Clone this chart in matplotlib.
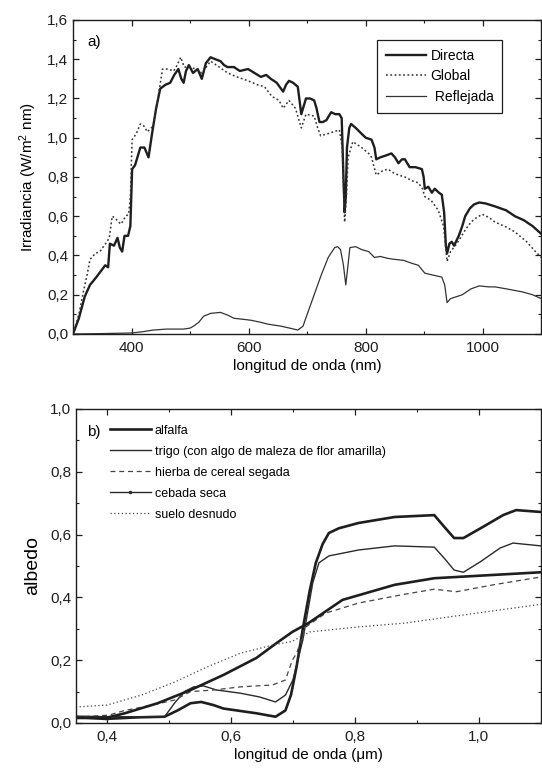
import matplotlib
matplotlib.use("Agg")
import matplotlib.pyplot as plt
from matplotlib.ticker import MultipleLocator, FuncFormatter
from matplotlib.lines import Line2D

plt.rcParams['font.family'] = ['Liberation Sans', 'DejaVu Sans']
plt.rcParams['mathtext.fontset'] = 'custom'
plt.rcParams['mathtext.rm'] = 'Liberation Sans'
plt.rcParams['mathtext.it'] = 'Liberation Sans:italic'

# ---------------- panel a) data ----------------
directa_nm = [300, 310, 320, 329, 340, 355, 360, 363, 370, 376, 380, 384, 388, 394, 398, 401, 406, 415, 422, 429,
              435, 442, 449, 458, 466, 473, 480, 485, 489, 493, 498, 505, 513, 520, 527, 535, 543, 552, 558, 564,
              575, 585, 599, 610, 621, 630, 638, 648, 659, 664, 669, 676, 684, 690, 694, 698, 705, 712, 716, 721,
              727, 733, 741, 748, 755, 759, 762, 764, 766, 768, 772, 775, 783, 793, 800, 810, 815, 818, 825, 835,
              844, 850, 856, 862, 867, 875, 885, 896, 899, 901, 907, 913, 918, 925, 930, 934, 937, 939, 943, 947,
              951, 959, 965, 970, 978, 985, 994, 1005, 1021, 1040, 1055, 1070, 1085, 1100]
directa_val = [0.0, 0.08, 0.19, 0.25, 0.29, 0.35, 0.34, 0.46, 0.45, 0.49, 0.44, 0.42, 0.50, 0.50, 0.55, 0.84, 0.86, 0.95, 0.95, 0.90,
               1.02, 1.15, 1.25, 1.27, 1.28, 1.32, 1.35, 1.30, 1.28, 1.34, 1.37, 1.33, 1.35, 1.30, 1.38, 1.41, 1.40, 1.39, 1.37, 1.36,
               1.36, 1.34, 1.35, 1.33, 1.31, 1.32, 1.30, 1.28, 1.235, 1.27, 1.29, 1.28, 1.26, 1.12, 1.16, 1.20, 1.20, 1.19, 1.15, 1.08,
               1.08, 1.09, 1.13, 1.12, 1.12, 1.10, 0.80, 0.62, 0.70, 0.95, 1.05, 1.07, 1.05, 1.02, 1.00, 0.99, 0.95, 0.89, 0.90, 0.91,
               0.92, 0.90, 0.87, 0.89, 0.89, 0.85, 0.85, 0.84, 0.80, 0.74, 0.75, 0.72, 0.74, 0.72, 0.71, 0.62, 0.45, 0.41, 0.46, 0.47,
               0.45, 0.50, 0.55, 0.60, 0.64, 0.66, 0.67, 0.665, 0.65, 0.63, 0.60, 0.58, 0.55, 0.51]

global_nm = [300, 310, 318, 324, 329, 338, 346, 358, 362, 367, 372, 378, 382, 386, 390, 395, 398, 401, 408, 415,
             421, 427, 437, 445, 453, 462, 472, 478, 484, 490, 498, 510, 520, 535, 550, 564, 580, 599, 615, 627,
             640, 652, 659, 669, 680, 690, 698, 712, 718, 723, 735, 745, 755, 760, 764, 767, 770, 778, 793, 805,
             810, 818, 828, 838, 848, 856, 867, 880, 890, 897, 901, 912, 924, 933, 939, 945, 953, 962, 970, 980,
             988, 999, 1010, 1021, 1040, 1055, 1075, 1090, 1100]
global_val = [0.0, 0.10, 0.22, 0.30, 0.38, 0.41, 0.42, 0.47, 0.49, 0.60, 0.59, 0.57, 0.56, 0.58, 0.60, 0.61, 0.70, 0.99, 1.02, 1.07,
              1.06, 1.03, 1.06, 1.20, 1.35, 1.35, 1.34, 1.37, 1.41, 1.36, 1.36, 1.35, 1.33, 1.39, 1.36, 1.33, 1.31, 1.29, 1.27, 1.26,
              1.21, 1.19, 1.15, 1.19, 1.15, 1.05, 1.12, 1.11, 1.05, 1.01, 1.02, 1.03, 1.04, 0.95, 0.57, 0.70, 0.90, 0.98, 0.95, 0.92,
              0.90, 0.81, 0.83, 0.84, 0.82, 0.81, 0.80, 0.78, 0.77, 0.74, 0.70, 0.68, 0.63, 0.55, 0.37, 0.42, 0.45, 0.49, 0.53, 0.57,
              0.59, 0.61, 0.595, 0.57, 0.545, 0.52, 0.47, 0.42, 0.39]

refl_nm = [300, 350, 400, 420, 437, 460, 489, 500, 506, 515, 523, 535, 552, 565, 575, 590, 604, 620, 633, 655,
           670, 684, 693, 700, 712, 724, 736, 747, 752, 757, 762, 766, 769, 773, 783, 793, 805, 815, 825, 838,
           850, 865, 879, 890, 901, 915, 930, 935, 939, 945, 955, 965, 980, 994, 1010, 1021, 1040, 1067, 1085, 1100]
refl_val = [0.0, 0.002, 0.005, 0.012, 0.02, 0.025, 0.025, 0.03, 0.04, 0.06, 0.09, 0.105, 0.11, 0.095, 0.08, 0.075, 0.07, 0.06, 0.05, 0.04,
            0.03, 0.02, 0.04, 0.10, 0.20, 0.30, 0.39, 0.44, 0.445, 0.43, 0.35, 0.25, 0.33, 0.44, 0.445, 0.43, 0.42, 0.39, 0.395, 0.385,
            0.38, 0.375, 0.36, 0.35, 0.31, 0.30, 0.29, 0.25, 0.16, 0.18, 0.19, 0.20, 0.23, 0.245, 0.24, 0.24, 0.23, 0.215, 0.20, 0.18]

# ---------------- panel b) data ----------------
alfalfa_um = [0.35, 0.398, 0.45, 0.493, 0.514, 0.535, 0.552, 0.572, 0.588, 0.641, 0.672, 0.688, 0.697, 0.706,
              0.716, 0.727, 0.737, 0.748, 0.758, 0.774, 0.806, 0.864, 0.928, 0.944, 0.96, 0.975, 1.007, 1.039,
              1.06, 1.1]
alfalfa_val = [0.019, 0.013, 0.018, 0.02, 0.04, 0.063, 0.067, 0.057, 0.046, 0.031, 0.02, 0.04, 0.09, 0.18,
               0.30, 0.42, 0.51, 0.57, 0.605, 0.62, 0.637, 0.656, 0.662, 0.625, 0.589, 0.589, 0.625, 0.662,
               0.678, 0.672]

trigo_um = [0.35, 0.40, 0.493, 0.509, 0.525, 0.54, 0.556, 0.577, 0.615, 0.646, 0.672, 0.688, 0.70, 0.716,
            0.732, 0.742, 0.758, 0.806, 0.864, 0.928, 0.944, 0.96, 0.975, 1.002, 1.034, 1.055, 1.1]
trigo_val = [0.022, 0.02, 0.02, 0.063, 0.10, 0.115, 0.118, 0.105, 0.095, 0.083, 0.067, 0.089, 0.137, 0.264,
             0.446, 0.51, 0.532, 0.551, 0.564, 0.56, 0.525, 0.487, 0.48, 0.513, 0.557, 0.573, 0.564]

hierba_um = [0.35, 0.403, 0.429, 0.456, 0.509, 0.535, 0.572, 0.615, 0.667, 0.688, 0.699, 0.706, 0.721, 0.753,
             0.806, 0.88, 0.928, 0.964, 1.023, 1.1]
hierba_val = [0.019, 0.025, 0.04, 0.05, 0.073, 0.10, 0.105, 0.115, 0.121, 0.137, 0.20, 0.222, 0.306, 0.35,
              0.382, 0.41, 0.426, 0.418, 0.44, 0.465]

cebada_um = [0.35, 0.398, 0.429, 0.482, 0.535, 0.588, 0.641, 0.674, 0.699, 0.725, 0.78, 0.864, 0.928, 1.1]
cebada_val = [0.016, 0.016, 0.031, 0.063, 0.105, 0.153, 0.207, 0.255, 0.29, 0.318, 0.392, 0.44, 0.461, 0.48]

suelo_um = [0.35, 0.40, 0.456, 0.509, 0.561, 0.615, 0.667, 0.699, 0.727, 0.806, 0.88, 0.96, 1.1]
suelo_val = [0.051, 0.057, 0.089, 0.13, 0.178, 0.222, 0.248, 0.26, 0.29, 0.306, 0.318, 0.34, 0.378]

INK = '#1e1e1e'
comma = FuncFormatter(lambda v, p: f"{v:.1f}".replace('.', ','))

fig = plt.figure(figsize=(5.42, 7.74), dpi=100)

# ---------------- panel a ----------------
ax1 = fig.add_axes([0.1347, 0.5685, 0.864, 0.4057])
ax1.plot(directa_nm, directa_val, color=INK, lw=1.7, label='Directa')
ax1.plot(global_nm, global_val, color='#333333', lw=1.1, ls=(0, (1.2, 1.6)), label='Global')
ax1.plot(refl_nm, refl_val, color='#333333', lw=0.9, label=' Reflejada')
ax1.set_xlim(300, 1100)
ax1.set_ylim(0, 1.6)
ax1.xaxis.set_major_locator(MultipleLocator(200))
ax1.xaxis.set_minor_locator(MultipleLocator(100))
ax1.yaxis.set_major_locator(MultipleLocator(0.2))
ax1.yaxis.set_minor_locator(MultipleLocator(0.1))
ax1.yaxis.set_major_formatter(comma)
ax1.set_xlabel('longitud de onda (nm)', fontsize=11, labelpad=3)
ax1.set_ylabel('Irradiancia (W/m$^{2}$ nm)', fontsize=11, labelpad=6)
ax1.text(0.03, 0.93, 'a)', transform=ax1.transAxes, fontsize=11, va='center', ha='left')
leg1 = ax1.legend(loc='upper right', bbox_to_anchor=(0.917, 0.936), borderaxespad=0, fancybox=False,
                  framealpha=1, edgecolor=INK, fontsize=10, handlelength=2.9, handletextpad=0.3,
                  borderpad=0.65, labelspacing=0.45)
leg1.get_frame().set_linewidth(0.9)

# ---------------- panel b ----------------
ax2 = fig.add_axes([0.140, 0.0659, 0.858, 0.4057])
ax2.plot(alfalfa_um, alfalfa_val, color=INK, lw=1.9)
ax2.plot(trigo_um, trigo_val, color='#2a2a2a', lw=1.0)
ax2.plot(hierba_um, hierba_val, color='#444444', lw=0.9, ls=(0, (4, 3)))
ax2.plot(cebada_um, cebada_val, color=INK, lw=1.9)
ax2.plot(suelo_um, suelo_val, color='#444444', lw=0.9, ls=(0, (1, 2)))
ax2.set_xlim(0.35, 1.1)
ax2.set_ylim(0, 1.0)
ax2.xaxis.set_major_locator(MultipleLocator(0.2))
ax2.xaxis.set_minor_locator(MultipleLocator(0.1))
ax2.yaxis.set_major_locator(MultipleLocator(0.2))
ax2.yaxis.set_minor_locator(MultipleLocator(0.1))
ax2.xaxis.set_major_formatter(comma)
ax2.yaxis.set_major_formatter(comma)
ax2.set_xlabel('longitud de onda (\u03bcm)', fontsize=11, labelpad=3)
ax2.set_ylabel('albedo', fontsize=14, labelpad=6)
ax2.text(0.023, 0.927, 'b)', transform=ax2.transAxes, fontsize=11, va='center', ha='left')
handles = [
    Line2D([], [], color=INK, lw=1.9),
    Line2D([], [], color='#2a2a2a', lw=1.0),
    Line2D([], [], color='#444444', lw=0.9, ls=(0, (4, 3))),
    Line2D([], [], color='#2a2a2a', lw=1.0, marker='.', markersize=3),
    Line2D([], [], color='#444444', lw=0.9, ls=(0, (1, 2))),
]
labels = ['alfalfa', 'trigo (con algo de maleza de flor amarilla)', 'hierba de cereal segada',
          'cebada seca', 'suelo desnudo']
ax2.legend(handles, labels, loc='upper left', bbox_to_anchor=(0.073, 0.95), borderaxespad=0,
           frameon=False, fontsize=9, handlelength=3.3, handletextpad=0.3, labelspacing=0.72,
           borderpad=0)

for ax in (ax1, ax2):
    ax.tick_params(which='both', direction='in', top=True, right=True, colors=INK, labelcolor=INK)
    ax.tick_params(which='major', length=4, width=0.9, labelsize=11)
    ax.tick_params(which='minor', length=2.5, width=0.8)
    ax.tick_params(axis='x', pad=5)
    for s in ax.spines.values():
        s.set_color(INK)
        s.set_linewidth(1.0)

fig.savefig('out.png', dpi=100)
